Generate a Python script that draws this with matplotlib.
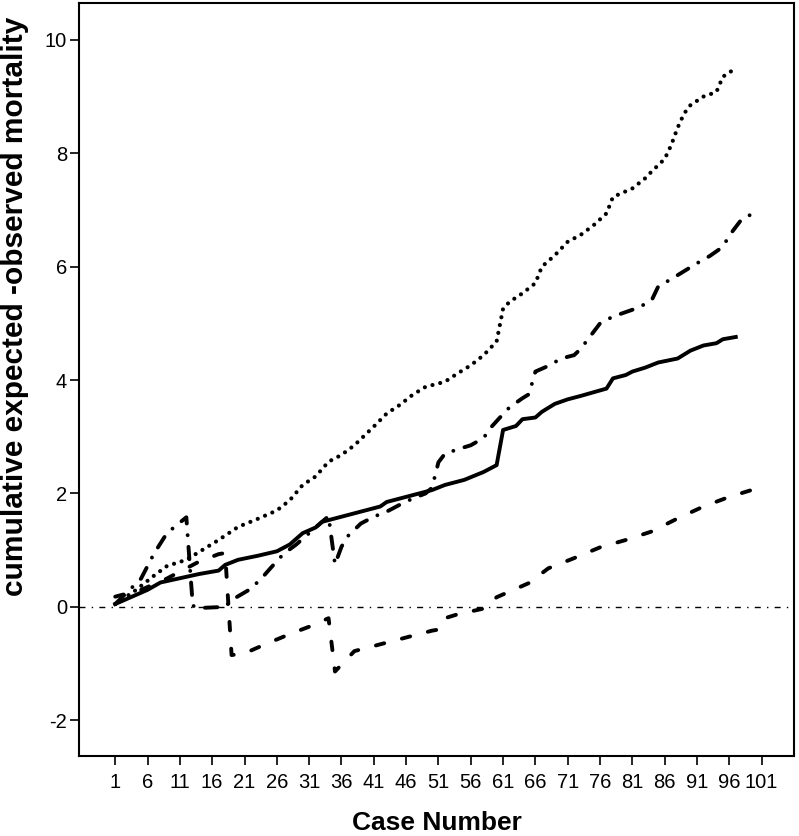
"""
Cumulative expected minus observed mortality by case number (VLAD-style chart).
Four series drawn in black with different line styles, zero reference line.
"""

import matplotlib
matplotlib.use("Agg")
import matplotlib.pyplot as plt
from matplotlib import font_manager

# --- data (case number, cumulative E-O) ---
solid_case = [1, 6, 8, 12, 14, 17, 18, 20, 23, 26, 28, 30, 32, 33, 35, 36, 38, 40, 42, 43,
              46, 50, 52, 55, 58, 60, 61, 63, 64, 66, 67, 69, 71, 73, 77, 78, 80, 81, 83, 85,
              88, 90, 92, 94, 95, 97]
solid_val = [0.05, 0.30, 0.43, 0.53, 0.58, 0.64, 0.74, 0.83, 0.90, 0.98, 1.10, 1.30, 1.40, 1.50,
             1.56, 1.59, 1.65, 1.71, 1.77, 1.85, 1.94, 2.06, 2.15, 2.24, 2.38, 2.50, 3.12, 3.19,
             3.31, 3.34, 3.44, 3.58, 3.66, 3.72, 3.85, 4.03, 4.09, 4.15, 4.22, 4.31, 4.38, 4.52,
             4.61, 4.65, 4.72, 4.76]

dotted_case = [1, 4, 7, 9, 12, 14, 17, 20, 23, 26, 28, 30, 32, 34, 36, 38, 41, 43, 45, 47,
               49, 52, 54, 56, 58, 60, 61, 62, 64, 66, 67, 69, 71, 73, 75, 77, 78, 81, 83, 84,
               86, 87, 88, 89, 90, 92, 94, 95, 97]
dotted_val = [0.05, 0.28, 0.55, 0.72, 0.83, 0.97, 1.18, 1.41, 1.55, 1.70, 1.88, 2.15, 2.30, 2.56,
              2.68, 2.85, 3.18, 3.41, 3.56, 3.74, 3.88, 3.97, 4.12, 4.26, 4.44, 4.68, 5.26, 5.38,
              5.53, 5.71, 6.00, 6.20, 6.44, 6.56, 6.73, 6.94, 7.23, 7.38, 7.56, 7.68, 7.90, 8.14,
              8.45, 8.70, 8.85, 9.00, 9.08, 9.35, 9.50]

dashdot_case = [1, 5, 7, 9, 12, 13, 14, 18, 19, 22, 24, 25, 27, 29, 31, 33, 34, 35, 36, 37,
                39, 41, 43, 45, 47, 49, 50, 51, 52, 54, 56, 58, 59, 61, 62, 64, 65, 66, 68, 70,
                72, 73, 75, 76, 78, 80, 82, 84, 85, 87, 89, 91, 93, 95, 96, 97, 98, 100]
dashdot_val = [0.05, 0.50, 0.94, 1.30, 1.58, 0.02, -0.02, 0.00, 0.12, 0.32, 0.55, 0.68, 0.93, 1.10,
               1.30, 1.50, 1.60, 0.75, 1.06, 1.25, 1.47, 1.59, 1.68, 1.80, 1.91, 2.00, 2.10, 2.55,
               2.70, 2.78, 2.85, 2.98, 3.15, 3.40, 3.52, 3.68, 3.75, 4.15, 4.25, 4.38, 4.44, 4.55,
               4.85, 5.00, 5.12, 5.20, 5.28, 5.41, 5.65, 5.78, 5.92, 6.06, 6.19, 6.35, 6.55, 6.70,
               6.85, 6.95]

dashed_case = [1, 5, 9, 11, 14, 17, 18, 19, 21, 24, 28, 31, 34, 35, 38, 42, 46, 50, 51, 52,
               54, 58, 60, 62, 65, 68, 72, 76, 80, 84, 88, 92, 96, 100]
dashed_val = [0.18, 0.30, 0.50, 0.62, 0.80, 0.93, 0.95, -0.85, -0.82, -0.67, -0.48, -0.35, -0.20,
              -1.14, -0.78, -0.66, -0.54, -0.42, -0.40, -0.20, -0.13, -0.03, 0.17, 0.27, 0.42,
              0.68, 0.86, 1.05, 1.18, 1.33, 1.56, 1.77, 1.94, 2.08]

x_ticks = list(range(1, 102, 5))
y_ticks = [-2, 0, 2, 4, 6, 8, 10]


def pick_font(*names):
    installed = {f.name for f in font_manager.fontManager.ttflist}
    for name in names:
        if name in installed:
            return name
    return "DejaVu Sans"


plt.rcParams["axes.unicode_minus"] = False

tick_font = pick_font("Liberation Sans Narrow", "Liberation Sans")
tick_size = 15 if tick_font == "Liberation Sans Narrow" else 14.5
label_font = pick_font("Liberation Sans", "Arial")

fig = plt.figure(figsize=(7.99, 8.36), dpi=100)
ax = fig.add_axes([0.0989, 0.0957, 0.8948, 0.9007])

# zero reference line
ax.axhline(0, color="black", linewidth=1.0, linestyle=(0, (4.3, 4.5, 1, 4.5)))

lw = 2.8
ax.plot(solid_case, solid_val, color="black", linewidth=lw, solid_joinstyle="round")
ax.plot(dotted_case, dotted_val, color="black", linewidth=lw + 0.2,
        linestyle=(0, (0.01, 1.9)), dash_capstyle="round")
ax.plot(dashdot_case, dashdot_val, color="black", linewidth=lw,
        linestyle=(0, (3.2, 3.0, 0.01, 3.0)), dash_capstyle="round")
ax.plot(dashed_case, dashed_val, color="black", linewidth=lw,
        linestyle=(0, (2.2, 4.7)), dash_capstyle="round")

ax.set_xlim(-4.6, 106.0)
ax.set_ylim(-2.63, 10.65)
ax.set_xticks(x_ticks)
ax.set_yticks(y_ticks)
ax.tick_params(axis="both", direction="out", length=6.5, width=1.2, color="black")
ax.tick_params(axis="x", pad=6)
ax.tick_params(axis="y", pad=2)
for lab in ax.get_xticklabels() + ax.get_yticklabels():
    lab.set_fontfamily(tick_font)
    lab.set_fontsize(tick_size)

for spine in ax.spines.values():
    spine.set_linewidth(1.5)
    spine.set_color("black")

ax.set_xlabel("Case Number", fontsize=19, fontweight="bold", family=label_font)
ax.set_ylabel("cumulative expected -observed mortality", fontsize=21.5,
              fontweight="bold", family=label_font)
ax.xaxis.set_label_coords(0.5, -0.089)
ax.xaxis.label.set_va("center")
ax.yaxis.set_label_coords(-0.0895, 0.597)
ax.yaxis.label.set_va("center")

fig.savefig("out.png", dpi=100)
